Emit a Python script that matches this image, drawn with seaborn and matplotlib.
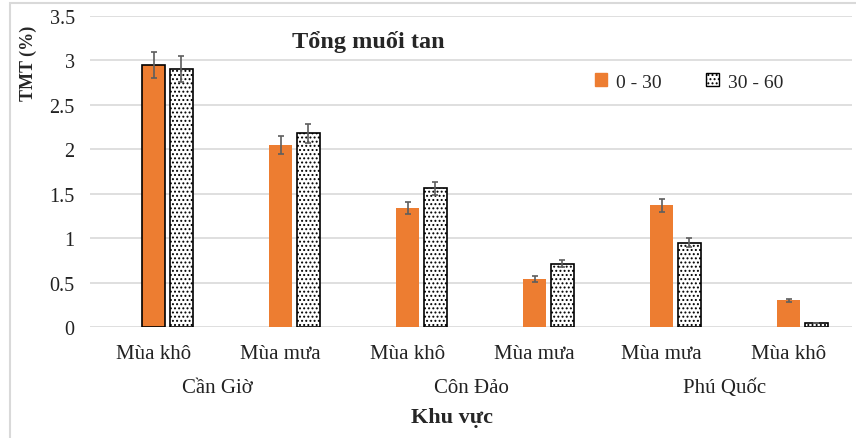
import numpy as np
import pandas as pd
import seaborn as sns
import matplotlib.pyplot as plt
from matplotlib.patches import Patch, Rectangle

# data
sites = ["Cần Giờ", "Cần Giờ", "Côn Đảo", "Côn Đảo", "Phú Quốc", "Phú Quốc"]
seasons = ["Mùa khô", "Mùa mưa", "Mùa khô", "Mùa mưa", "Mùa mưa", "Mùa khô"]
depths = ["0 - 30", "30 - 60"]
tmt_0_30 = [2.95, 2.05, 1.34, 0.54, 1.37, 0.30]
tmt_30_60 = [2.90, 2.18, 1.56, 0.71, 0.95, 0.05]
err_0_30 = [0.15, 0.105, 0.07, 0.03, 0.075, 0.015]
err_30_60 = [0.145, 0.11, 0.075, 0.04, 0.05, 0.0]

orange = "#ED7D31"
grid_c = "#D9D9D9"

keys = [s + "|" + q for s, q in zip(sites, seasons)]
df = pd.DataFrame({
    "key": keys * 2,
    "depth": [depths[0]] * 6 + [depths[1]] * 6,
    "tmt": tmt_0_30 + tmt_30_60,
})

sns.set_theme(style="white")
plt.rcParams["font.family"] = ["Liberation Serif", "DejaVu Serif"]
plt.rcParams["hatch.linewidth"] = 0.9

fig = plt.figure(figsize=(8.56, 4.39), dpi=100)
ax = fig.add_axes([90 / 856, 1 - 328 / 439, 762 / 856, 311 / 439])

# an empty first hue level keeps the Excel-like offset of the bar pairs
hue_order = [" ", depths[0], depths[1]]
pal = {" ": "white", depths[0]: orange, depths[1]: "white"}
sns.barplot(data=df, x="key", y="tmt", hue="depth", order=keys, hue_order=hue_order,
            palette=pal, width=0.66, gap=0.2, legend=False, ax=ax, saturation=1,
            errorbar=None)

conts = [c for c in ax.containers if len(c) > 0]
bars_a = sorted(conts[0].patches, key=lambda p: p.get_x())
bars_b = sorted(conts[1].patches, key=lambda p: p.get_x())
for p in bars_a:
    p.set_edgecolor(orange)
    p.set_linewidth(0)
bars_a[0].set_edgecolor("black")
bars_a[0].set_linewidth(1.2)
for p in bars_b:
    p.set_facecolor("white")
    p.set_edgecolor("black")
    p.set_linewidth(1.2)
    p.set_hatch("....")

for bars, errs in [(bars_a, err_0_30), (bars_b, err_30_60)]:
    xs = [p.get_x() + p.get_width() / 2 for p in bars]
    ys = [p.get_height() for p in bars]
    ax.errorbar(xs, ys, yerr=errs, fmt="none", ecolor="#5E5E5E", elinewidth=1.2,
                capsize=2.5, capthick=1.2, zorder=5)

ax.set_ylim(0, 3.5)
ax.set_xlim(-0.5, 5.5)
ax.set_yticks(np.arange(0, 3.51, 0.5))
ax.set_yticklabels(["0", "0.5", "1", "1.5", "2", "2.5", "3", "3.5"])
ax.set_xticks(range(6))
ax.set_xticklabels(seasons)
ax.tick_params(axis="both", length=0, labelsize=14, colors="#222222")
ax.tick_params(axis="x", labelsize=15, pad=12)
ax.tick_params(axis="y", labelsize=14.5, pad=11)
ax.yaxis.grid(True, color=grid_c, linewidth=1.2)
ax.set_axisbelow(True)
for s in ax.spines.values():
    s.set_visible(False)
ax.set_xlabel("")
ax.set_ylabel("")

# second level of category labels
for i in range(0, 6, 2):
    ax.text((i + i + 1) / 2, -0.195, sites[i], transform=ax.get_xaxis_transform(),
            ha="center", va="center", fontsize=15, color="#222222")

ax.text(0.475, -0.289, "Khu vực", transform=ax.transAxes, ha="center", va="center",
        fontsize=16, fontweight="bold")
ax.text(-0.081, 0.852, "TMT (%)", transform=ax.transAxes, ha="center", va="center",
        rotation=90, fontsize=13, fontweight="bold")
ax.text(0.365, 0.92, "Tổng muối tan", transform=ax.transAxes, ha="center", va="center",
        fontsize=17.5, fontweight="bold")

handles = [Patch(facecolor=orange, edgecolor=orange, label=depths[0]),
           Patch(facecolor="white", edgecolor="black", hatch="....", label=depths[1])]
ax.legend(handles=handles, loc="center", bbox_to_anchor=(0.786, 0.788), ncol=2,
          frameon=False, fontsize=14, handlelength=0.65, handleheight=0.65,
          handletextpad=0.45, columnspacing=2.3)

# chart border
fig.patches.append(Rectangle((10 / 856, -0.1), 1.0, 1.1 - 4 / 439, transform=fig.transFigure,
                             fill=False, edgecolor=grid_c, linewidth=1.5))

fig.savefig("out.png", dpi=100)
